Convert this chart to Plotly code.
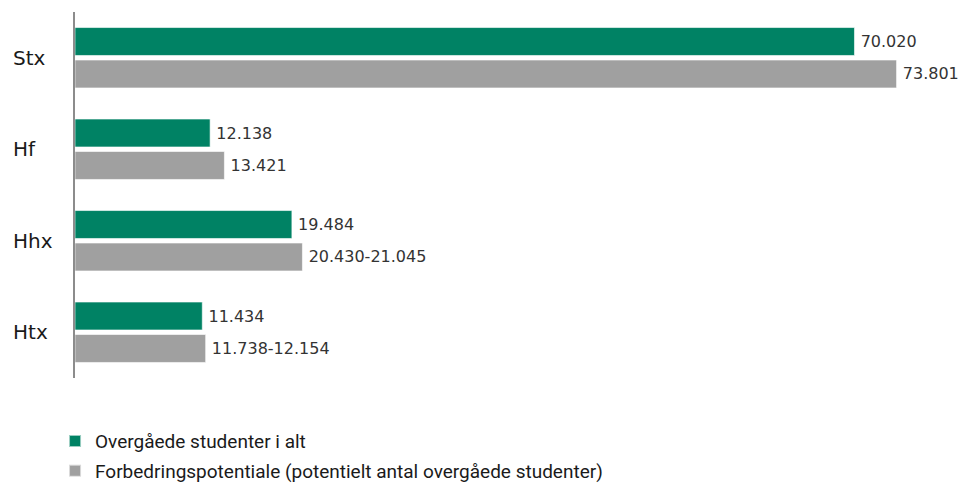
import plotly.graph_objects as go

categories = ["Stx", "Hf", "Hhx", "Htx"]
overgaaede = [70020, 12138, 19484, 11434]
overgaaede_labels = ["70.020", "12.138", "19.484", "11.434"]
potentiale = [73801, 13421, 20430, 11738]
potentiale_labels = ["73.801", "13.421", "20.430-21.045", "11.738-12.154"]

GREEN = "#008264"
GRAY = "#a0a0a0"
TEXT = "#333333"
FONT = "DejaVu Sans, sans-serif"
LFONT = "Roboto, Liberation Sans, sans-serif"
SP = "\u2009"

fig = go.Figure()
fig.add_trace(go.Bar(
    y=categories, x=overgaaede, orientation="h",
    name="Overgåede studenter i alt", legendgroup="a",
    marker=dict(color=GREEN, line=dict(color="rgba(255,255,255,0.6)", width=1)),
    text=[SP + t for t in overgaaede_labels], textposition="outside",
    textfont=dict(size=16, color=TEXT, family=FONT),
    cliponaxis=False, hoverinfo="skip",
))
fig.add_trace(go.Bar(
    y=categories, x=potentiale, orientation="h",
    name="Forbedringspotentiale (potentielt antal overgåede studenter)",
    legendgroup="b",
    marker=dict(color=GRAY, line=dict(color="rgba(255,255,255,0.6)", width=1)),
    text=[SP + t for t in potentiale_labels], textposition="outside",
    textfont=dict(size=16, color=TEXT, family=FONT),
    cliponaxis=False, hoverinfo="skip",
))

for c in categories:
    fig.add_annotation(
        x=(11 - 75) / 875, xref="x domain", y=c, yref="y",
        text=c, showarrow=False, xanchor="left",
        font=dict(size=20, color="#1a1a1a", family=FONT),
    )

fig.update_layout(
    width=960, height=476,
    margin=dict(l=67, r=18, t=4, b=106, autoexpand=False),
    paper_bgcolor="white", plot_bgcolor="white",
    barmode="group", bargap=0.29, bargroupgap=0.14,
    font=dict(family=FONT, color=TEXT),
    xaxis=dict(range=[0, 78600], visible=False, fixedrange=True),
    yaxis=dict(autorange="reversed", showticklabels=False, ticks="",
               showline=True, linecolor="#8c8c8c", linewidth=1.5,
               showgrid=False, zeroline=False, fixedrange=True),
    legend=dict(
        xref="container", yref="container", x=0.049, y=0.13,
        xanchor="left", yanchor="top", orientation="v",
        font=dict(size=19, color="#1a1a1a", family=LFONT),
        traceorder="grouped", tracegroupgap=2, itemsizing="constant",
    ),
    showlegend=True,
)

fig.write_html("out.html")
